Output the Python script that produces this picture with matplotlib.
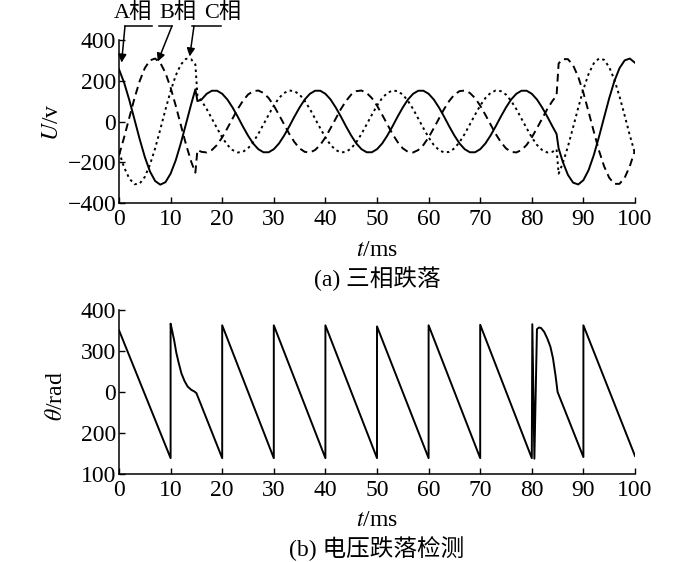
import matplotlib
matplotlib.use('Agg')
import matplotlib.pyplot as plt
from matplotlib.lines import Line2D

plt.rcParams['font.family'] = ['Liberation Serif', 'Noto Sans CJK SC']
plt.rcParams['mathtext.fontset'] = 'stix'

tickSize = 17
labelFont = {'size': 17}
noteFont = {'size': 16}
solidStyle = {'color': 'black', 'linewidth': 1.4}

# (a) three phase sag, time in ms, voltage in V
t_a = list(range(0, 15)) + [14.8, 15.2] + list(range(16, 85)) + [84.8, 85.2] + list(range(86, 101))

phase_a = [256, 190, 105, 10, -86, -174, -245, -292, -310, -298, -256, -190, -105, -10, 86,
           158, 100,
           108, 136, 151, 151, 136, 108, 69, 24, -24, -69, -108, -136, -151, -151, -136, -108, -69, -24, 24, 69,
           108, 136, 151, 151, 136, 108, 69, 24, -24, -69, -108, -136, -151, -151, -136, -108, -69, -24, 24, 69,
           108, 136, 151, 151, 136, 108, 69, 24, -24, -69, -108, -136, -151, -151, -136, -108, -69, -24, 24, 69,
           108, 136, 151, 151, 136, 108, 69, 24, -24,
           -61, -132,
           -198, -262, -300, -309, -288, -239, -166, -77, 19, 114, 198, 262, 300, 309, 288]

phase_b = [-166, -77, 19, 114, 198, 262, 300, 309, 288, 239, 166, 77, -19, -114, -198,
           -251, -140,
           -149, -152, -140, -115, -78, -33, 14, 61, 101, 132, 149, 152, 140, 115, 78, 33, -14, -61, -101, -132,
           -149, -152, -140, -115, -78, -33, 14, 61, 101, 132, 149, 152, 140, 115, 78, 33, -14, -61, -101, -132,
           -149, -152, -140, -115, -78, -33, 14, 61, 101, 132, 149, 152, 140, 115, 78, 33, -14, -61, -101, -132,
           -149, -152, -140, -115, -78, -33, 14, 61, 101,
           127, 285,
           306, 306, 276, 219, 141, 48, -48, -141, -219, -276, -306, -306, -276, -219, -141]

phase_c = [-149, -226, -280, -308, -305, -272, -212, -132, -39, 58, 149, 226, 280, 308, 305,
           280, 127,
           101, 61, 14, -33, -78, -115, -140, -152, -149, -132, -101, -61, -14, 33, 78, 115, 140, 152, 149, 132,
           101, 61, 14, -33, -78, -115, -140, -152, -149, -132, -101, -61, -14, 33, 78, 115, 140, 152, 149, 132,
           101, 61, 14, -33, -78, -115, -140, -152, -149, -132, -101, -61, -14, 33, 78, 115, 140, 152, 149, 132,
           101, 61, 14, -33, -78, -115, -140, -152, -149,
           -136, -256,
           -205, -123, -29, 68, 158, 233, 285, 309, 303, 267, 205, 123, 29, -68, -158]

# (b) detected phase angle (axis labelled 400/300/0/200/100 from top)
t_b = [0, 10, 10, 10.3, 10.7, 11.1, 11.6, 12.1, 12.7, 13.3, 14.0, 14.6, 15, 20, 20, 30, 30, 40, 40,
       50, 50, 60, 60, 70, 70,
       80, 80.1, 80.5, 81.0, 81.4, 81.8, 82.4, 83.0, 83.6, 84.1, 84.6, 85.0, 90, 90, 100]
theta = [363, 129, 375, 362, 344, 322, 302, 284, 270, 260, 254, 251, 248, 129, 372, 129, 372, 129, 372,
         129, 370, 129, 372, 129, 373,
         129, 374, 128, 365, 368, 367, 360, 348, 333, 312, 280, 250, 131, 372, 133]

x_ticks = list(range(0, 101, 10))
u_ticks = [-400, -200, 0, 200, 400]
theta_ticks = [100, 175, 250, 325, 400]
theta_labels = ['100', '200', '0', '300', '400']

fig = plt.figure(figsize=(7, 5.62), dpi=100)


def style_axes(ax):
    for side in ['top', 'right']:
        ax.spines[side].set_visible(False)
    for side in ['left', 'bottom']:
        ax.spines[side].set_linewidth(1.1)
    ax.tick_params(direction='in', length=4, width=1, labelsize=tickSize)
    ax.tick_params(axis='x', pad=4.5)
    ax.tick_params(axis='y', pad=2)
    ax.set_xlim(0, 100)
    ax.set_xticks(x_ticks)


ax1 = fig.add_axes([119 / 700, 1 - 203 / 562, 516 / 700, 163 / 562])
ax1.plot(t_a, phase_a, **solidStyle)
ax1.plot(t_a, phase_b, color='black', linewidth=1.4, dashes=(4, 2.5))
ax1.plot(t_a, phase_c, color='black', linewidth=1.4, dashes=(1.3, 1.8))
style_axes(ax1)
ax1.set_ylim(-400, 400)
ax1.set_yticks(u_ticks)

ax2 = fig.add_axes([119 / 700, 1 - 474 / 562, 516 / 700, 164 / 562])
ax2.plot(t_b, theta, **solidStyle)
style_axes(ax2)
ax2.set_ylim(100, 400)
ax2.set_yticks(theta_ticks)
ax2.set_yticklabels(theta_labels)

# axis labels and captions
fig.text(52 / 700, 1 - 122 / 562, '$U$/v', rotation=90, ha='center', va='center', **labelFont)
fig.text(56 / 700, 1 - 396 / 562, r'$\theta$/rad', rotation=90, ha='center', va='center', **labelFont)
fig.text(377 / 700, 1 - 250 / 562, '$t$/ms', ha='center', va='center', **labelFont)
fig.text(377 / 700, 1 - 279 / 562, '(a) 三相跌落', ha='center', va='center', **labelFont)
fig.text(377 / 700, 1 - 520 / 562, '$t$/ms', ha='center', va='center', **labelFont)
fig.text(377 / 700, 1 - 549 / 562, '(b) 电压跌落检测', ha='center', va='center', **labelFont)

# phase callouts: label, leader line (px), arrow start (px), arrow tip (data)
notes = [('A相', 133, 125, 152, 125, (0.5, 289)),
         ('B相', 178, 159, 172, 172, (7.5, 294)),
         ('C相', 223, 192, 221, 194, (13.7, 319))]
for name, cx, x0, x1, xs, tip in notes:
    fig.text(cx / 700, 1 - 13 / 562, name, ha='center', va='center', **noteFont)
    fig.add_artist(Line2D([x0 / 700, x1 / 700], [1 - 26 / 562, 1 - 26 / 562],
                          transform=fig.transFigure, color='black', linewidth=1.1))
    ax1.annotate('', xy=tip, xycoords='data', xytext=(xs / 700, 1 - 26 / 562), textcoords='figure fraction',
                 arrowprops=dict(arrowstyle='-|>', color='black', lw=1.1, mutation_scale=12,
                                 shrinkA=0, shrinkB=0), annotation_clip=False)

plt.savefig('out.png', dpi=100)
